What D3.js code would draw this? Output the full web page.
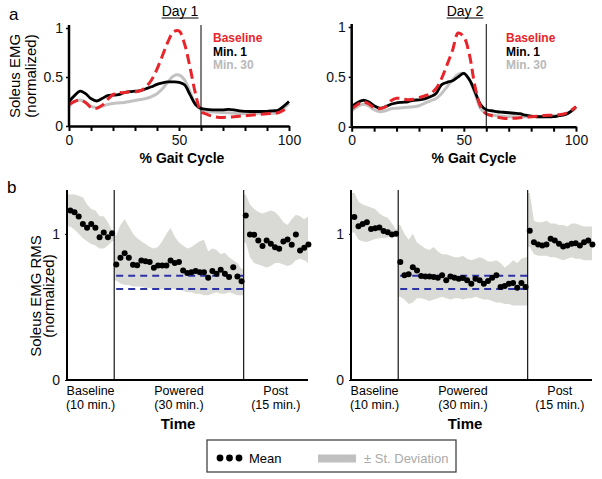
<!DOCTYPE html>
<html><head><meta charset="utf-8">
<script src="https://cdn.jsdelivr.net/npm/d3@7"></script>
<style>
body{margin:0;background:#fff;}
svg{display:block;font-family:"Liberation Sans",Arial,Helvetica,sans-serif;}
</style>
</head><body>
<svg id="chart" width="602" height="479"></svg>
<script>
// ---------- Panel a: EMG over gait cycle ----------
const gaitPct = [0,2.5,5,7.5,10,12.5,15,17.5,20,22.5,25,27.5,30,32.5,35,37.5,40,42.5,45,47.5,50,52.5,55,57.5,60,62.5,65,67.5,70,72.5,75,77.5,80,82.5,85,87.5,90,92.5,95,97.5,100];
const gaitTicks = [0,10,20,30,40,50,60,70,80,90,100];
const gaitTickLabels = [0,50,100];
const emgTicks = [0,0.5,1];
const toeOffPct = 60;
const seriesNames = ["Baseline","Min. 1","Min. 30"];

const day1Baseline = [0.22,0.25,0.265,0.24,0.19,0.18,0.21,0.27,0.32,0.34,0.34,0.35,0.35,0.36,0.40,0.47,0.58,0.72,0.86,0.96,0.97,0.84,0.60,0.33,0.15,0.12,0.10,0.09,0.088,0.09,0.095,0.10,0.105,0.11,0.115,0.12,0.125,0.13,0.135,0.16,0.20];
const day1Min1 = [0.25,0.31,0.355,0.33,0.28,0.255,0.28,0.31,0.315,0.32,0.34,0.35,0.355,0.36,0.38,0.40,0.425,0.44,0.45,0.45,0.445,0.42,0.32,0.22,0.18,0.17,0.165,0.165,0.165,0.17,0.165,0.155,0.15,0.148,0.148,0.148,0.15,0.155,0.16,0.20,0.25];
const day1Min30 = [0.20,0.25,0.265,0.24,0.20,0.19,0.20,0.22,0.23,0.235,0.24,0.25,0.26,0.27,0.28,0.30,0.33,0.38,0.45,0.51,0.52,0.47,0.35,0.22,0.17,0.15,0.145,0.14,0.138,0.135,0.13,0.128,0.125,0.125,0.128,0.13,0.13,0.13,0.14,0.18,0.23];

const day2Baseline = [0.18,0.22,0.25,0.23,0.19,0.18,0.20,0.26,0.285,0.28,0.27,0.275,0.29,0.31,0.33,0.38,0.48,0.62,0.77,0.94,0.90,0.72,0.40,0.20,0.13,0.11,0.095,0.085,0.082,0.085,0.09,0.095,0.10,0.105,0.11,0.115,0.115,0.12,0.13,0.16,0.20];
const day2Min1 = [0.20,0.24,0.265,0.25,0.21,0.185,0.20,0.225,0.24,0.245,0.25,0.265,0.27,0.28,0.30,0.33,0.42,0.445,0.46,0.50,0.535,0.47,0.35,0.22,0.17,0.16,0.15,0.145,0.14,0.135,0.13,0.115,0.105,0.10,0.10,0.10,0.10,0.11,0.12,0.15,0.20];
const day2Min30 = [0.16,0.20,0.225,0.21,0.17,0.15,0.16,0.18,0.185,0.19,0.195,0.20,0.21,0.235,0.26,0.28,0.33,0.40,0.47,0.525,0.535,0.47,0.33,0.18,0.13,0.117,0.11,0.105,0.10,0.10,0.10,0.10,0.10,0.10,0.10,0.105,0.11,0.115,0.125,0.15,0.18];

// ---------- Panel b: RMS over time ----------
const periods = ["Baseline","Powered","Post"];
const periodDurations = ["(10 min.)","(30 min.)","(15 min.)"];
const rmsTicks = [0,1];
const targetRange = [0.714,0.622];

const day1BaseMean = [1.159,1.147,1.118,1.068,1.041,1.068,1.041,0.977,1.009,0.977,1.004];
const day1BaseUpper = [1.27,1.27,1.26,1.25,1.20,1.17,1.16,1.12,1.12,1.08,1.02];
const day1BaseLower = [1.05,1.03,1.00,0.97,0.95,0.93,0.92,0.90,0.90,0.92,0.95];
const day1PowMean = [0.791,0.836,0.868,0.836,0.789,0.785,0.818,0.813,0.807,0.768,0.784,0.784,0.784,0.818,0.800,0.807,0.750,0.732,0.738,0.745,0.738,0.738,0.700,0.745,0.727,0.755,0.727,0.705,0.772,0.709,0.675];
const day1PowUpper = [0.99,1.06,1.10,1.05,1.00,0.97,0.95,0.93,0.91,0.90,0.91,0.95,1.00,1.04,0.98,0.94,0.92,0.90,0.91,0.93,0.95,0.96,0.88,0.90,0.89,0.86,0.87,0.84,0.82,0.80,0.76];
const day1PowLower = [0.68,0.66,0.65,0.65,0.64,0.64,0.64,0.63,0.63,0.62,0.62,0.62,0.63,0.63,0.62,0.62,0.61,0.60,0.60,0.59,0.59,0.58,0.58,0.59,0.60,0.59,0.59,0.60,0.59,0.58,0.58];
const day1PostMean = [1.125,0.995,0.993,0.954,0.916,0.954,0.932,0.909,0.898,0.948,0.961,0.925,0.995,0.886,0.905,0.927];
const day1PostUpper = [1.27,1.20,1.17,1.15,1.14,1.15,1.16,1.15,1.12,1.08,1.06,1.10,1.13,1.12,1.10,1.12];
const day1PostLower = [0.94,0.84,0.80,0.79,0.78,0.77,0.78,0.80,0.80,0.79,0.78,0.79,0.82,0.83,0.82,0.80];

const day2BaseMean = [1.115,1.052,1.068,1.079,1.034,1.038,1.043,1.020,1.011,0.995,1.000];
const day2BaseUpper = [1.28,1.22,1.20,1.19,1.18,1.17,1.14,1.12,1.11,1.07,1.03];
const day2BaseLower = [1.01,0.96,0.95,0.945,0.955,0.965,0.97,0.97,0.975,0.985,0.98];
const day2PowMean = [0.807,0.716,0.723,0.772,0.750,0.711,0.709,0.709,0.705,0.700,0.716,0.682,0.709,0.700,0.693,0.698,0.682,0.659,0.693,0.682,0.659,0.677,0.700,0.716,0.636,0.643,0.659,0.664,0.632,0.664,0.636];
const day2PowUpper = [1.06,1.00,0.96,1.00,0.94,0.92,0.90,0.89,0.91,0.88,0.86,0.86,0.85,0.84,0.84,0.85,0.83,0.82,0.83,0.84,0.83,0.81,0.81,0.82,0.80,0.77,0.79,0.82,0.80,0.83,0.84];
const day2PowLower = [0.57,0.55,0.52,0.53,0.56,0.56,0.55,0.54,0.55,0.56,0.57,0.56,0.55,0.56,0.56,0.55,0.56,0.56,0.57,0.56,0.55,0.55,0.54,0.53,0.53,0.52,0.52,0.51,0.51,0.51,0.51];
const day2PostMean = [1.022,0.943,0.927,0.920,0.927,0.966,0.954,0.932,0.913,0.920,0.932,0.936,0.920,0.943,0.954,0.927];
const day2PostUpper = [1.28,1.09,1.08,1.08,1.09,1.07,1.07,1.06,1.06,1.05,1.07,1.07,1.06,1.05,1.05,1.05];
const day2PostLower = [0.91,0.86,0.85,0.85,0.85,0.84,0.84,0.83,0.82,0.83,0.84,0.83,0.83,0.82,0.82,0.82];

// ---------- styles ----------
const RED = "#e8252b", BLACK = "#000", GREY = "#c2c2c2", GREYTXT = "#b9b9b9", BAND = "#d9d9d5", BLUE = "#2c33a6";

const svg = d3.select("#chart");

// panel letters
svg.append("text").attr("x",9).attr("y",20).attr("font-size",17).text("a");
svg.append("text").attr("x",7).attr("y",193).attr("font-size",17).text("b");

// ---------- top panels ----------
function topPanel(o){
  const g = svg.append("g");
  const x = d3.scaleLinear([0,100],[o.x0,o.x1]);
  const y = d3.scaleLinear([0,1],[o.y0,o.y1]);
  const line = d3.line().x((d,i)=>x(gaitPct[i])).y(d=>y(d)).curve(d3.curveCatmullRom.alpha(0.5));

  g.append("path").datum(o.s3).attr("d",line).attr("fill","none").attr("stroke",GREY).attr("stroke-width",3).attr("stroke-linejoin","round");
  g.append("path").datum(o.s2).attr("d",line).attr("fill","none").attr("stroke",BLACK).attr("stroke-width",2.8).attr("stroke-linejoin","round");
  g.append("path").datum(o.s1).attr("d",line).attr("fill","none").attr("stroke",RED).attr("stroke-width",3).attr("stroke-dasharray","10,5");

  // toe-off line
  g.append("line").attr("x1",x(toeOffPct)).attr("x2",x(toeOffPct)).attr("y1",o.y1-3).attr("y2",o.y0).attr("stroke","#000").attr("stroke-width",1);

  const xa = g.append("g").attr("transform",`translate(0,${o.y0})`)
    .call(d3.axisBottom(x).tickValues(gaitTicks).tickSize(5).tickSizeOuter(0)
      .tickFormat(d=>gaitTickLabels.includes(d)?d:""));
  xa.select(".domain").attr("stroke-width",2.5);
  xa.selectAll(".tick line").attr("stroke-width",2);
  xa.selectAll("text").attr("font-size",14).attr("font-family","Liberation Sans, Arial, sans-serif").attr("dy","0.76em").attr("fill","#111");

  const ya = g.append("g").attr("transform",`translate(${o.x0},0)`)
    .call(d3.axisLeft(y).tickValues(emgTicks).tickSize(3).tickSizeOuter(0).tickFormat(d=>d));
  ya.select(".domain").attr("stroke-width",2.5).attr("d",`M0,${o.y0}V${o.y1-3}`);
  ya.selectAll(".tick line").attr("stroke-width",1.5);
  ya.selectAll("text").attr("font-size",14).attr("font-family","Liberation Sans, Arial, sans-serif").attr("x",-6).attr("fill","#111");

  // title
  const t = g.append("text").attr("x",o.titleX).attr("y",16).attr("text-anchor","middle").attr("font-size",14).text(o.title);
  const bb = t.node().getBBox();
  g.append("line").attr("x1",bb.x).attr("x2",bb.x+bb.width).attr("y1",18).attr("y2",18).attr("stroke","#000").attr("stroke-width",1);

  // x label
  g.append("text").attr("x",o.xlabX).attr("y",162.5).attr("text-anchor","middle").attr("font-size",14).attr("font-weight","bold").text("% Gait Cycle");

  // legend
  const cols = [RED, BLACK, GREYTXT];
  const ys = [42, 55.5, 69];
  seriesNames.forEach((n,i)=>{
    g.append("text").attr("x",o.legX).attr("y",ys[i]).attr("font-size",12).attr("font-weight","bold").attr("fill",cols[i]).text(n);
  });
}

topPanel({x0:69,x1:289,y0:126,y1:28,s1:day1Baseline,s2:day1Min1,s3:day1Min30,title:"Day 1",titleX:180,xlabX:182,legX:213});
topPanel({x0:351.7,x1:576,y0:126.7,y1:27,s1:day2Baseline,s2:day2Min1,s3:day2Min30,title:"Day 2",titleX:465,xlabX:474,legX:506});

// y labels
function vlabel(lines, cy, size){
  lines.forEach(l=>{
    svg.append("text").attr("transform",`translate(${l.x},${cy}) rotate(-90)`).attr("text-anchor","middle").attr("font-size",size).text(l.t);
  });
}
vlabel([{t:"Soleus EMG",x:19.5},{t:"(normalized)",x:36}],76,15);
vlabel([{t:"Soleus EMG RMS",x:40.5},{t:"(normalized)",x:54}],296,15);

// ---------- bottom panels ----------
function bottomPanel(o){
  const g = svg.append("g");
  const segs = [
    {mean:o.bm, up:o.bu, lo:o.bl},
    {mean:o.pm, up:o.pu, lo:o.pl},
    {mean:o.qm, up:o.qu, lo:o.ql}
  ];
  let start = 0;
  segs.forEach(s=>{ s.start = start; s.end = start + s.mean.length; start = s.end; });
  const total = start;
  const x = d3.scaleLinear([-0.3,total-0.6],[o.x0,o.x1]);
  const y = d3.scaleLinear([0,1.3],[380,190]);

  // bands
  segs.forEach((s,k)=>{
    const pts = s.mean.map((m,i)=>({xi:s.start+i+0.5, u:s.up[i], l:s.lo[i]}));
    const left = k===0 ? x.domain()[0] : s.start;
    const right = k===segs.length-1 ? x.domain()[1] : s.end;
    pts.unshift({xi:left,u:s.up[0],l:s.lo[0]});
    pts.push({xi:right,u:s.up[s.up.length-1],l:s.lo[s.lo.length-1]});
    g.append("path").datum(pts).attr("fill",BAND)
      .attr("d",d3.area().x(d=>x(d.xi)).y0(d=>y(d.l)).y1(d=>y(d.u)));
  });

  // target dashed lines over powered segment
  const ps = segs[1];
  targetRange.forEach(v=>{
    g.append("line").attr("x1",x(ps.start)+2).attr("x2",x(ps.end)).attr("y1",y(v)).attr("y2",y(v))
      .attr("stroke",BLUE).attr("stroke-width",2).attr("stroke-dasharray","7,5");
  });

  // dots
  segs.forEach(s=>{
    g.selectAll(null).data(s.mean).enter().append("circle")
      .attr("cx",(d,i)=>x(s.start+i+0.5)).attr("cy",d=>y(d)).attr("r",3).attr("fill","#000");
  });

  // separators
  [segs[0].end, segs[1].end].forEach(b=>{
    g.append("line").attr("x1",x(b)).attr("x2",x(b)).attr("y1",190).attr("y2",380).attr("stroke","#000").attr("stroke-width",1.1);
  });

  // axes
  g.append("line").attr("x1",o.x0).attr("x2",o.x1).attr("y1",380).attr("y2",380).attr("stroke","#000").attr("stroke-width",2);
  const ya = g.append("g").attr("transform",`translate(${o.x0},0)`)
    .call(d3.axisLeft(y).tickValues(rmsTicks).tickSize(2).tickSizeOuter(0).tickFormat(d=>d));
  ya.select(".domain").attr("stroke-width",2).attr("d","M0,380V190");
  ya.selectAll("text").attr("font-size",14).attr("font-family","Liberation Sans, Arial, sans-serif").attr("x",-7).attr("fill","#111");

  // category labels
  segs.forEach((s,k)=>{
    const a = k===0 ? o.x0 : x(s.start);
    const b = k===segs.length-1 ? o.x1 : x(s.end);
    const cx = (a+b)/2;
    g.append("text").attr("x",cx).attr("y",395).attr("text-anchor","middle").attr("font-size",12.5).text(periods[k]);
    g.append("text").attr("x",cx).attr("y",408.5).attr("text-anchor","middle").attr("font-size",12.5).text(periodDurations[k]);
  });
  g.append("text").attr("x",o.timeX).attr("y",429).attr("text-anchor","middle").attr("font-size",15).attr("font-weight","bold").text("Time");
}

bottomPanel({x0:67,x1:308,bm:day1BaseMean,bu:day1BaseUpper,bl:day1BaseLower,pm:day1PowMean,pu:day1PowUpper,pl:day1PowLower,qm:day1PostMean,qu:day1PostUpper,ql:day1PostLower,timeX:178});
bottomPanel({x0:351,x1:592,bm:day2BaseMean,bu:day2BaseUpper,bl:day2BaseLower,pm:day2PowMean,pu:day2PowUpper,pl:day2PowLower,qm:day2PostMean,qu:day2PostUpper,ql:day2PostLower,timeX:465});

// ---------- legend ----------
const lg = svg.append("g");
lg.append("rect").attr("x",207).attr("y",440).attr("width",249).attr("height",32).attr("fill","#fff").attr("stroke","#444").attr("stroke-width",1.3);
[220,229.5,239].forEach(cx=>lg.append("circle").attr("cx",cx).attr("cy",458).attr("r",3.4).attr("fill","#000"));
lg.append("text").attr("x",249).attr("y",462.5).attr("font-size",13).text("Mean");
lg.append("rect").attr("x",318).attr("y",454.5).attr("width",38).attr("height",8).attr("fill","#c0c0c0");
lg.append("text").attr("x",364).attr("y",462.5).attr("font-size",13).attr("fill","#aaa").text("± St. Deviation");
</script>
</body></html>
